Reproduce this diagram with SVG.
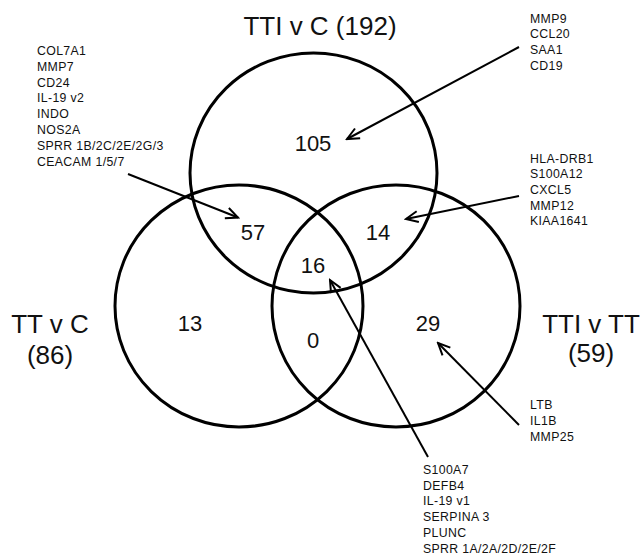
<svg xmlns="http://www.w3.org/2000/svg" width="640" height="554" viewBox="0 0 640 554">
<style>
.c{fill:none;stroke:#000;stroke-width:3}
.t{font-family:"Liberation Sans",Arial,sans-serif;fill:#111}
.big{font-size:26px;text-anchor:middle}
.num{font-size:22px;text-anchor:middle}
.g{font-size:12.3px;letter-spacing:0.35px}
.a{fill:none;stroke:#000;stroke-width:2}
</style>
<defs>
<marker id="ah" markerUnits="userSpaceOnUse" markerWidth="16" markerHeight="16" viewBox="-14 -8 16 16" refX="0" refY="0" orient="auto">
<path d="M-12,-5.5 L0,0 L-12,5.5" fill="none" stroke="#000" stroke-width="2"/>
</marker>
</defs>
<rect width="640" height="554" fill="#fff"/>
<g id="set-tti-c">
<ellipse class="c" cx="313.5" cy="173" rx="123.5" ry="120"/>
<text class="t big" x="320" y="35">TTI v C (192)</text>
</g>
<g id="set-tt-c">
<ellipse class="c" cx="239" cy="306" rx="124" ry="121"/>
<text class="t big" x="50" y="333">TT v C</text>
<text class="t big" x="50" y="364">(86)</text>
</g>
<g id="set-tti-tt">
<ellipse class="c" cx="396" cy="306" rx="124" ry="121"/>
<text class="t big" x="591" y="333">TTI v TT</text>
<text class="t big" x="591" y="362">(59)</text>
</g>
<g id="counts">
<text class="t num" x="313" y="151">105</text>
<text class="t num" x="253" y="240">57</text>
<text class="t num" x="378" y="240">14</text>
<text class="t num" x="313" y="273">16</text>
<text class="t num" x="190" y="331">13</text>
<text class="t num" x="313" y="348">0</text>
<text class="t num" x="428" y="331">29</text>
</g>
<g id="list-57" class="t g">
<text x="37" y="55">COL7A1</text>
<text x="37" y="71">MMP7</text>
<text x="37" y="86.5">CD24</text>
<text x="37" y="102">IL-19 v2</text>
<text x="37" y="118">INDO</text>
<text x="37" y="133.5">NOS2A</text>
<text x="37" y="149.5">SPRR 1B/2C/2E/2G/3</text>
<text x="37" y="165.5">CEACAM 1/5/7</text>
</g>
<g id="list-105" class="t g">
<text x="530" y="22.7">MMP9</text>
<text x="530" y="38.3">CCL20</text>
<text x="530" y="54">SAA1</text>
<text x="530" y="69.5">CD19</text>
</g>
<g id="list-14" class="t g">
<text x="530" y="162.7">HLA-DRB1</text>
<text x="530" y="178.3">S100A12</text>
<text x="530" y="194">CXCL5</text>
<text x="530" y="209.6">MMP12</text>
<text x="530" y="225.3">KIAA1641</text>
</g>
<g id="list-29" class="t g">
<text x="530" y="409.3">LTB</text>
<text x="530" y="425">IL1B</text>
<text x="530" y="440.7">MMP25</text>
</g>
<g id="list-16" class="t g">
<text x="423" y="474">S100A7</text>
<text x="423" y="489.7">DEFB4</text>
<text x="423" y="505.4">IL-19 v1</text>
<text x="423" y="521.1">SERPINA 3</text>
<text x="423" y="536.8">PLUNC</text>
<text x="423" y="552.5">SPRR 1A/2A/2D/2E/2F</text>
</g>
<g id="connectors">
<line class="a" x1="128" y1="174" x2="238" y2="217.5" marker-end="url(#ah)"/>
<line class="a" x1="519" y1="47" x2="347" y2="139" marker-end="url(#ah)"/>
<line class="a" x1="519" y1="196" x2="406" y2="219" marker-end="url(#ah)"/>
<line class="a" x1="428" y1="457" x2="330" y2="280" marker-end="url(#ah)"/>
<line class="a" x1="519" y1="425" x2="438" y2="343" marker-end="url(#ah)"/>
</g>
</svg>
